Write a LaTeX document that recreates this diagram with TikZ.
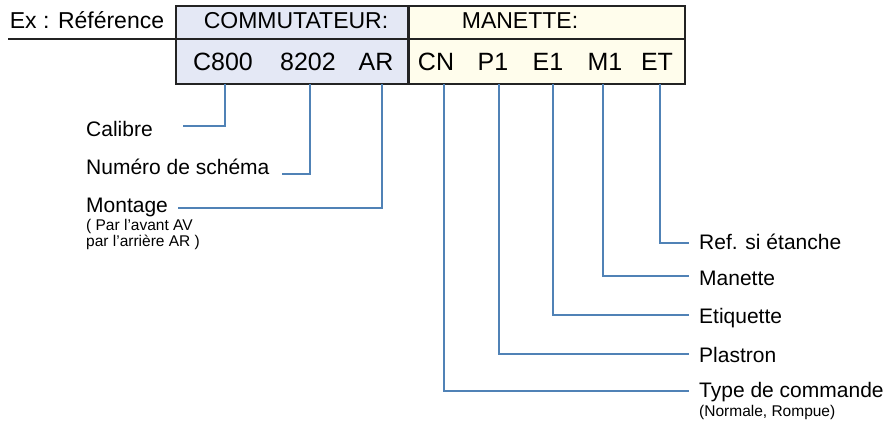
\documentclass[tikz,border=0pt]{standalone}
\usepackage{fontspec}
\setmainfont{Liberation Sans}
\usetikzlibrary{positioning, calc}
\definecolor{cadre}{RGB}{35,35,35}
\definecolor{fondcom}{RGB}{228,232,245}
\definecolor{fondman}{RGB}{255,253,236}
\definecolor{trait}{RGB}{80,130,182}

\tikzset{
  titre/.style={anchor=base, inner sep=0pt, font=\fontsize{23}{27}\selectfont},
  code/.style={anchor=base, inner sep=0pt, font=\fontsize{25}{30}\selectfont},
  legende/.style={anchor=base west, inner sep=0pt, font=\fontsize{21}{25}\selectfont},
  detail/.style={anchor=base west, inner sep=0pt, font=\fontsize{15.5}{17}\selectfont},
  lien/.style={draw=trait, line width=1.5pt},
}

\begin{document}
\begin{tikzpicture}[x=1pt, y=-1pt]
      \useasboundingbox (0,0) rectangle (888,424);

      % cases de la reference
      \filldraw[fill=fondcom, draw=cadre, line width=1.5pt] (176,6) rectangle (408,84);
      \filldraw[fill=fondman, draw=cadre, line width=1.5pt] (408,6) rectangle (685,84);
      \draw[cadre, line width=2pt] (8,39) -- (685,39);
      \draw[cadre, line width=3pt] (408,6) -- (408,84);

      \node[titre] (ex) at (87,28) {Ex : Référence};
      \node[titre] (commut) at (296,28) {COMMUTATEUR:};
      \node[titre] (manet) at (520,28) {MANETTE:};

      \node[code] (c800) at (223,70) {C800};
      \node[code] (n8202) at (308,70) {8202};
      \node[code] (ar) at (376,70) {AR};
      \node[code] (cn) at (436,70) {CN};
      \node[code] (p1) at (493,70) {P1};
      \node[code] (e1) at (548,70) {E1};
      \node[code] (m1) at (605,70) {M1};
      \node[code] (et) at (657,70) {ET};

      \coordinate (bas) at (0,84);

      % legendes
      \node[legende] (calibre) at (86,136) {Calibre};
      \node[legende] (schema) at (86,174) {Numéro de schéma};
      \node[legende] (montage) at (86,212) {Montage};
      \node[detail] (avant) at (86,230) {( Par l’avant AV};
      \node[detail] (arriere) at (86,246) {par l’arrière AR )};

      \node[legende] (etanche) at (699,249) {Ref. si étanche};
      \node[legende] (manette) at (699,285) {Manette};
      \node[legende] (etiquette) at (699,323) {Etiquette};
      \node[legende] (plastron) at (699,362) {Plastron};
      \node[legende] (type) at (699,397) {Type de commande};
      \node[detail] (normale) at (699,416) {(Normale, Rompue)};

      \coordinate (f-calibre) at (183,126);
      \coordinate (f-schema) at (282,174);
      \coordinate (f-montage) at (178,208);
      \coordinate (f-etanche) at (689,243);
      \coordinate (f-manette) at (689,276);
      \coordinate (f-etiquette) at (689,315);
      \coordinate (f-plastron) at (689,354);
      \coordinate (f-type) at (689,391);

      % liaisons
      \draw[lien] ($(c800 |- bas)+(2,0)$) |- (f-calibre);
      \draw[lien] ($(n8202 |- bas)+(2,0)$) |- (f-schema);
      \draw[lien] ($(ar |- bas)+(6,0)$) |- (f-montage);
      \draw[lien] ($(cn |- bas)+(8,0)$) |- (f-type);
      \draw[lien] ($(p1 |- bas)+(6,0)$) |- (f-plastron);
      \draw[lien] ($(e1 |- bas)+(5,0)$) |- (f-etiquette);
      \draw[lien] ($(m1 |- bas)+(-2,0)$) |- (f-manette);
      \draw[lien] ($(et |- bas)+(3,0)$) |- (f-etanche);
    \end{tikzpicture}
\end{document}
